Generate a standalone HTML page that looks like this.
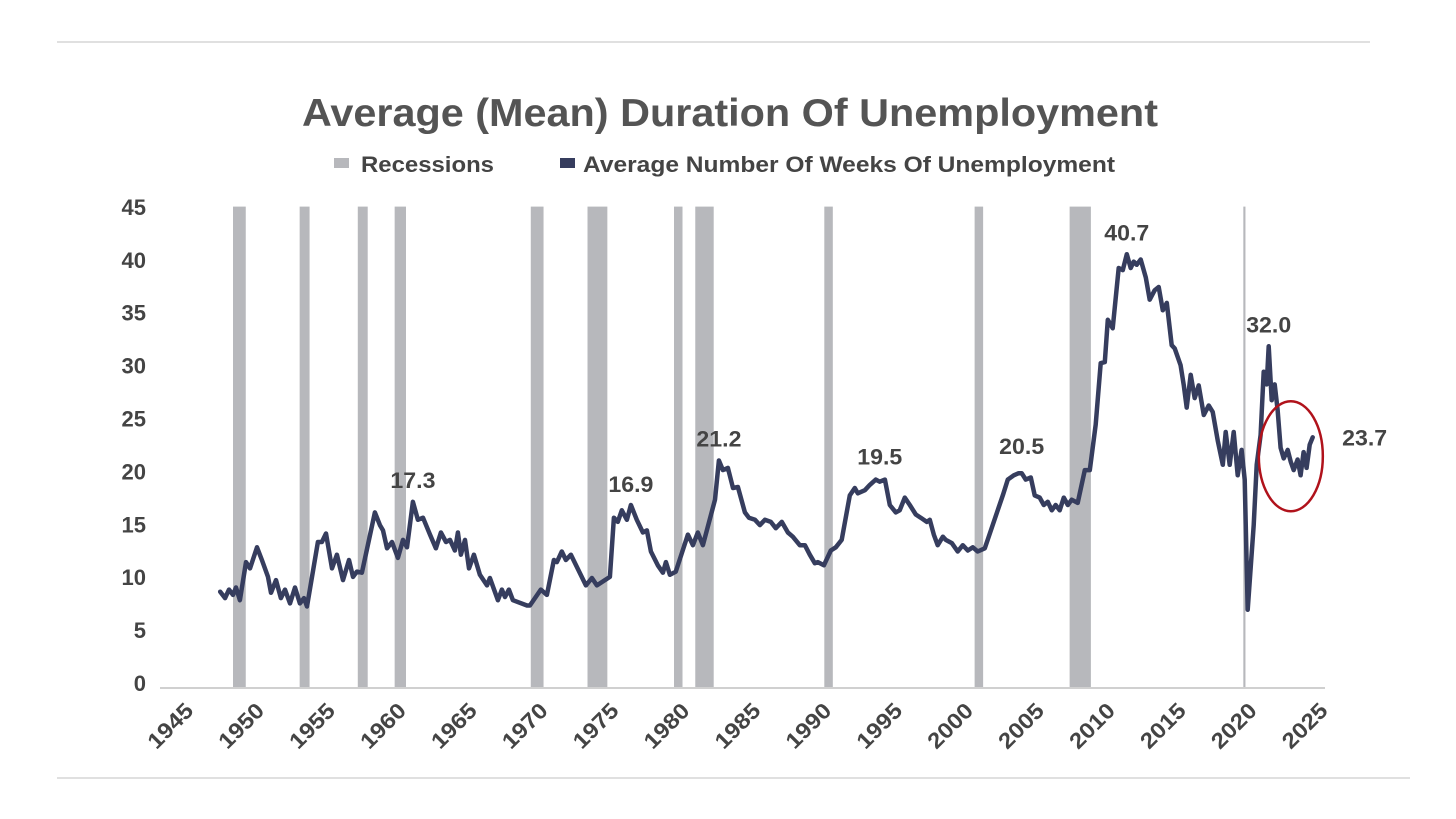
<!DOCTYPE html>
<html><head><meta charset="utf-8"><style>
html,body{margin:0;padding:0;background:#fff;}
svg{display:block;font-family:"Liberation Sans",sans-serif;}
</style></head><body>
<svg id="chart" width="1456" height="819" viewBox="0 0 1456 819">
<line x1="57" y1="42" x2="1370" y2="42" stroke="#d6d6d6" stroke-width="1.5"/>
<line x1="57" y1="778" x2="1410" y2="778" stroke="#d6d6d6" stroke-width="1.5"/>
<text x="730" y="126" text-anchor="middle" font-size="39" font-weight="bold" fill="#545454" textLength="856" lengthAdjust="spacingAndGlyphs">Average (Mean) Duration Of Unemployment</text>
<g>
<g>
<rect x="334" y="158" width="15" height="10" fill="#b7b8bc"/>
<text x="361" y="172" font-size="22" font-weight="bold" fill="#444" textLength="133" lengthAdjust="spacingAndGlyphs">Recessions</text>
</g>
<g>
<rect x="560" y="158" width="15" height="10" fill="#363d5e"/>
<text x="583" y="172" font-size="22" font-weight="bold" fill="#444" textLength="532" lengthAdjust="spacingAndGlyphs">Average Number Of Weeks Of Unemployment</text>
</g>
</g>
<g id="recessions"></g>
<g id="yaxis"></g>
<g id="xaxis"></g>
<g id="series"></g>
<g id="labels"></g>
</svg>
<script>
const recStart=[1948.9,1953.6,1957.7,1960.3,1969.9,1973.9,1980.0,1981.5,1990.6,2001.2,2007.9,2020.15];
const recEnd=[1949.8,1954.3,1958.4,1961.1,1970.8,1975.3,1980.6,1982.8,1991.2,2001.8,2009.4,2020.3];
const yTicks=[0,5,10,15,20,25,30,35,40,45];
const xTicks=[1945,1950,1955,1960,1965,1970,1975,1980,1985,1990,1995,2000,2005,2010,2015,2020,2025];
const years=[1948.0,1948.34,1948.62,1948.9,1949.11,1949.39,1949.82,1950.1,1950.59,1950.94,1951.37,1951.58,1951.93,1952.28,1952.57,1952.92,1953.27,1953.62,1953.91,1954.12,1954.89,1955.17,1955.46,1955.88,1956.23,1956.66,1957.08,1957.36,1957.64,1957.99,1958.91,1959.26,1959.48,1959.76,1960.11,1960.53,1960.89,1961.17,1961.59,1961.94,1962.3,1962.79,1963.21,1963.56,1963.92,1964.2,1964.55,1964.76,1964.97,1965.26,1965.54,1965.89,1966.31,1966.81,1967.02,1967.58,1967.86,1968.08,1968.36,1968.64,1969.63,1969.84,1970.61,1971.04,1971.53,1971.74,1972.09,1972.38,1972.73,1973.79,1974.21,1974.56,1975.13,1975.48,1975.76,1976.04,1976.32,1976.68,1976.96,1977.38,1977.81,1978.09,1978.37,1978.86,1979.22,1979.43,1979.71,1980.13,1980.98,1981.33,1981.68,1982.04,1982.89,1983.17,1983.45,1983.8,1984.16,1984.51,1985.0,1985.28,1985.71,1986.06,1986.41,1986.83,1987.18,1987.6,1988.03,1988.38,1988.87,1989.23,1989.58,1989.93,1990.14,1990.57,1991.06,1991.41,1991.83,1992.4,1992.75,1992.96,1993.46,1993.81,1994.23,1994.51,1994.87,1995.22,1995.64,1995.92,1996.28,1996.63,1997.05,1997.4,1997.83,1998.04,1998.32,1998.6,1998.96,1999.17,1999.59,2000.01,2000.37,2000.72,2001.07,2001.42,2001.92,2002.83,2003.19,2003.54,2003.96,2004.31,2004.52,2004.81,2005.16,2005.44,2005.79,2006.08,2006.36,2006.64,2006.92,2007.2,2007.49,2007.77,2008.05,2008.47,2008.97,2009.32,2009.74,2010.09,2010.38,2010.59,2010.94,2011.36,2011.65,2011.93,2012.21,2012.42,2012.63,2012.91,2013.27,2013.55,2013.9,2014.18,2014.47,2014.75,2015.1,2015.31,2015.73,2015.95,2016.16,2016.44,2016.72,2017.0,2017.36,2017.71,2017.99,2018.34,2018.7,2018.91,2019.19,2019.47,2019.75,2020.03,2020.25,2020.46,2020.88,2021.09,2021.37,2021.59,2021.8,2021.94,2022.15,2022.36,2022.57,2022.78,2023.0,2023.28,2023.49,2023.7,2023.98,2024.19,2024.4,2024.61,2024.83,2025.04];
const weeks=[9.1,8.5,9.3,8.8,9.5,8.3,11.9,11.3,13.3,12.1,10.5,9.0,10.2,8.5,9.3,8.0,9.5,8.0,8.5,7.7,13.8,13.8,14.6,11.3,12.6,10.2,12.1,10.5,11.0,10.9,16.6,15.4,14.9,13.2,13.8,12.3,14.0,13.3,17.6,15.9,16.1,14.5,13.2,14.7,13.8,14.0,13.0,14.7,12.6,14.0,11.3,12.6,10.7,9.7,10.4,8.3,9.3,8.6,9.3,8.3,7.8,7.8,9.3,8.8,12.1,11.9,12.9,12.1,12.6,9.7,10.4,9.7,10.2,10.5,16.1,15.7,16.8,15.9,17.3,15.9,14.7,14.9,12.9,11.6,10.9,11.9,10.7,11.0,14.5,13.5,14.7,13.5,17.8,21.5,20.6,20.8,18.9,19.0,16.6,16.1,15.9,15.4,15.9,15.7,15.1,15.7,14.7,14.3,13.5,13.5,12.6,11.8,11.9,11.6,13.0,13.3,14.0,18.2,18.9,18.4,18.7,19.2,19.7,19.5,19.7,17.3,16.6,16.8,18.0,17.3,16.4,16.1,15.7,15.9,14.5,13.5,14.3,14.0,13.7,12.9,13.5,13.0,13.3,12.9,13.2,16.8,18.2,19.7,20.1,20.3,20.3,19.7,19.9,18.2,18.0,17.3,17.6,16.8,17.3,16.8,18.0,17.3,17.8,17.5,20.6,20.6,24.9,30.7,30.8,34.8,34.0,39.7,39.5,41.0,39.7,40.3,40.0,40.5,38.8,36.7,37.6,37.9,35.7,36.4,32.4,32.1,30.5,28.6,26.5,29.6,27.4,28.6,25.8,26.7,26.1,23.4,21.1,24.2,21.1,24.2,20.1,22.5,19.7,7.4,15.4,21.1,23.9,29.9,28.7,32.3,27.2,28.7,26.3,22.7,21.7,22.5,21.4,20.6,21.6,20.1,22.3,20.8,23.0,23.7];
const peakYears=[1961.59,1976.96,1983.17,1994.51,2004.52,2011.93,2021.94,2025.04];
const peakValues=[17.3,16.9,21.2,19.5,20.5,40.7,32.0,23.7];

const NS='http://www.w3.org/2000/svg';
const X0=160,X1=1325,Y0=688;
function xs(t){return 233+(t-1948.9)*14.18;}
function ys(v){return Y0-v*10.58;}
function mk(tag,attrs,parent){const e=document.createElementNS(NS,tag);for(const k in attrs)e.setAttribute(k,attrs[k]);parent.appendChild(e);return e;}

const gR=document.getElementById('recessions');
recStart.forEach((s,i)=>{
  const w=Math.max(2,xs(recEnd[i])-xs(s));
  const r=mk('rect',{x:xs(s),y:ys(45.5),width:w,height:Y0-ys(45.5),fill:'#b7b8bc'},gR);
  
  
});

const gY=document.getElementById('yaxis');
yTicks.forEach(v=>{
  const t=mk('text',{x:146,y:ys(v)+3,'text-anchor':'end','font-size':22,'font-weight':'bold',fill:'#444'},gY);
  t.textContent=v;
  
  
});
const ax=mk('line',{x1:X0,y1:Y0,x2:X1,y2:Y0,stroke:'#d0d0d0','stroke-width':2},gY);



const gX=document.getElementById('xaxis');
xTicks.forEach(v=>{
  const x=xs(v)+17,y=712;
  const t=mk('text',{x:x,y:y,'text-anchor':'end','font-size':22,'font-weight':'bold',fill:'#444',textLength:54,lengthAdjust:'spacingAndGlyphs',transform:`rotate(-45 ${x} ${y})`},gX);
  t.textContent=v;
  
  
});

const gS=document.getElementById('series');
const d=years.map((t,i)=>(i?'L':'M')+xs(t).toFixed(1)+' '+ys(weeks[i]).toFixed(1)).join(' ');
const p=mk('path',{d:d,fill:'none',stroke:'#363d5e','stroke-width':4.5,'stroke-linejoin':'round','stroke-linecap':'round'},gS);



const gL=document.getElementById('labels');
peakYears.forEach((t,i)=>{
  const last=i===peakYears.length-1;
  const x=last?xs(t)+52:xs(t);
  const y=last?ys(peakValues[i])+8:ys(peakValues[i])-17;
  const tx=mk('text',{x:x,y:y,'text-anchor':'middle','font-size':22,'font-weight':'bold',fill:'#444',textLength:45,lengthAdjust:'spacingAndGlyphs'},gL);
  tx.textContent=peakValues[i].toFixed(1);
  
  
});
const c=mk('ellipse',{cx:xs(2023.5),cy:ys(22)+1,rx:32,ry:55,fill:'none',stroke:'#b0121b','stroke-width':2.5},gL);


</script>
</body></html>
